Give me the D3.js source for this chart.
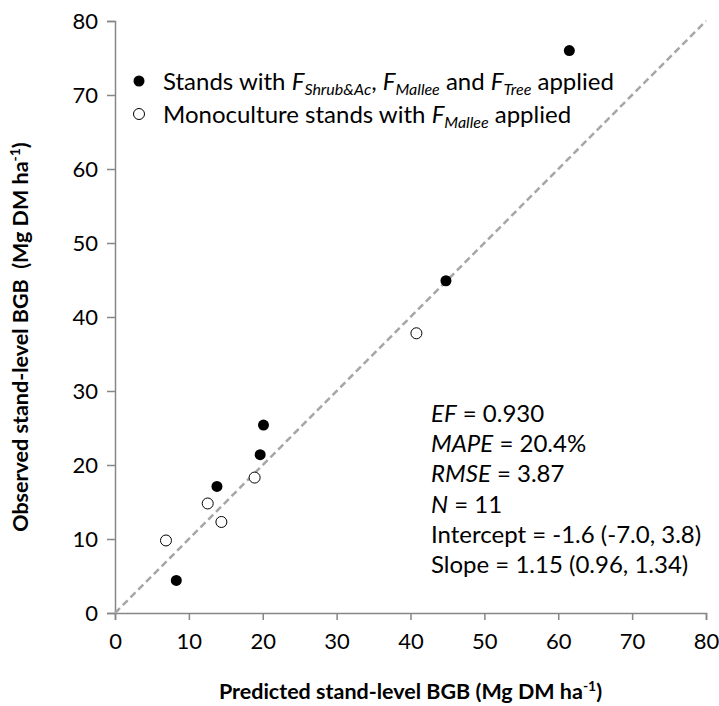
<!DOCTYPE html>
<html lang="en">
<head>
    <meta charset="UTF-8">
    <title>Observed vs predicted BGB</title>
    <style>
        * { margin: 0; padding: 0; }
        body { background: #fff; }
        svg text { font-family: Lato, "Open Sans", sans-serif; fill: #000; }
    </style>
</head>
<body>
    <div id="chart"></div>
    <script src="https://cdn.jsdelivr.net/npm/d3@7"></script>
    <script>
        // stands with all three factors applied (filled)
        const mixedPredicted = [8.3, 13.8, 19.65, 20.1, 44.8, 61.5]
        const mixedObserved = [4.4, 17.1, 21.4, 25.4, 44.9, 76.0]
        // monoculture stands (open)
        const monoPredicted = [6.9, 12.55, 14.4, 18.9, 40.8]
        const monoObserved = [9.8, 14.8, 12.3, 18.3, 37.8]

        const tickValues = [0, 10, 20, 30, 40, 50, 60, 70, 80]
        const statLines = [
            [['EF', true], [' = 0.930', false]],
            [['MAPE', true], [' = 20.4%', false]],
            [['RMSE', true], [' = 3.87', false]],
            [['N', true], [' = 11', false]],
            [['Intercept = -1.6 (-7.0, 3.8)', false]],
            [['Slope = 1.15 (0.96, 1.34)', false]]
        ]

        const width = 719
        const height = 706
        const margin = { top: 21, right: 13, bottom: 93, left: 115 }
        const innerW = width - margin.left - margin.right
        const innerH = height - margin.top - margin.bottom

        const svg = d3.select('#chart')
            .append('svg')
            .attr('width', width)
            .attr('height', height)

        const bounds = svg.append('g')
            .attr('transform', `translate(${margin.left}, ${margin.top})`)

        const x = d3.scaleLinear().domain([0, 80]).range([0, innerW])
        const y = d3.scaleLinear().domain([0, 80]).range([innerH, 0])

        const axisColor = '#868686'

        const xAxis = bounds.append('g')
            .attr('transform', `translate(0, ${innerH})`)
            .call(d3.axisBottom(x).tickValues(tickValues).tickSize(7).tickPadding(13))
        const yAxis = bounds.append('g')
            .call(d3.axisLeft(y).tickValues(tickValues).tickSize(8).tickPadding(9))

        ;[xAxis, yAxis].forEach(a => {
            a.select('.domain').attr('stroke', axisColor).attr('stroke-width', 1.5)
            a.selectAll('.tick line').attr('stroke', axisColor).attr('stroke-width', 1.5)
            a.selectAll('.tick text')
                .style('font-size', '22px')
                .style('font-family', 'Lato, sans-serif')
                .attr('fill', '#000')
        })

        // 1:1 line
        bounds.append('line')
            .attr('x1', x(0)).attr('y1', y(0))
            .attr('x2', x(80)).attr('y2', y(80))
            .attr('stroke', '#a6a6a6')
            .attr('stroke-width', 2.5)
            .attr('stroke-dasharray', '7,4')

        const r = 5.5
        bounds.selectAll('circle.mono')
            .data(monoPredicted.map((d, i) => [d, monoObserved[i]]))
            .join('circle')
            .attr('class', 'mono')
            .attr('cx', d => x(d[0]))
            .attr('cy', d => y(d[1]))
            .attr('r', r)
            .attr('fill', '#fff')
            .attr('stroke', '#000')
            .attr('stroke-width', 1)

        bounds.selectAll('circle.mixed')
            .data(mixedPredicted.map((d, i) => [d, mixedObserved[i]]))
            .join('circle')
            .attr('class', 'mixed')
            .attr('cx', d => x(d[0]))
            .attr('cy', d => y(d[1]))
            .attr('r', r)
            .attr('fill', '#000')

        // legend
        const legend = svg.append('g').attr('transform', 'translate(139, 0)')
        legend.append('circle').attr('cx', 0).attr('cy', 81).attr('r', r).attr('fill', '#000')
        legend.append('circle').attr('cx', 0).attr('cy', 114).attr('r', r)
            .attr('fill', '#fff').attr('stroke', '#000')

        const fs = '24px', sub = '16px'
        const l1 = legend.append('text').attr('x', 24).attr('y', 90).style('font-size', fs)
        l1.append('tspan').text('Stands with ')
        l1.append('tspan').text('F').style('font-style', 'italic')
        l1.append('tspan').text('Shrub&Ac').style('font-style', 'italic').style('font-size', sub).attr('dy', 5)
        l1.append('tspan').text(', ').attr('dy', -5)
        l1.append('tspan').text('F').style('font-style', 'italic')
        l1.append('tspan').text('Mallee').style('font-style', 'italic').style('font-size', sub).attr('dy', 5)
        l1.append('tspan').text(' and ').attr('dy', -5)
        l1.append('tspan').text('F').style('font-style', 'italic')
        l1.append('tspan').text('Tree').style('font-style', 'italic').style('font-size', sub).attr('dy', 5)
        l1.append('tspan').text(' applied').attr('dy', -5)

        const l2 = legend.append('text').attr('x', 24).attr('y', 123).style('font-size', fs)
        l2.append('tspan').text('Monoculture stands with ')
        l2.append('tspan').text('F').style('font-style', 'italic')
        l2.append('tspan').text('Mallee').style('font-style', 'italic').style('font-size', sub).attr('dy', 5)
        l2.append('tspan').text(' applied').attr('dy', -5)

        // statistics block
        const stats = svg.append('g').attr('transform', 'translate(431, 422)')
        statLines.forEach((parts, i) => {
            const t = stats.append('text').attr('y', i * 30.2).style('font-size', fs)
            parts.forEach(p => {
                t.append('tspan').text(p[0]).style('font-style', p[1] ? 'italic' : 'normal')
            })
        })

        // axis titles
        const xt = svg.append('text')
            .attr('x', margin.left + innerW / 2)
            .attr('y', 699)
            .attr('text-anchor', 'middle')
            .style('font-size', '21.5px')
            .style('font-weight', 700)
        xt.append('tspan').text('Predicted stand-level BGB (Mg DM ha')
        xt.append('tspan').text('-1').style('font-size', '14px').attr('dy', -8)
        xt.append('tspan').text(')').attr('dy', 8)

        const yt = svg.append('text')
            .attr('transform', `translate(28, ${margin.top + innerH / 2 + 20}) rotate(-90)`)
            .attr('text-anchor', 'middle')
            .style('font-size', '21.5px')
            .style('font-weight', 700)
        yt.append('tspan').text('Observed stand-level BGB\u00a0\u00a0(Mg DM ha')
        yt.append('tspan').text('-1').style('font-size', '14px').attr('dy', -8)
        yt.append('tspan').text(')').attr('dy', 8)
    </script>
</body>
</html>
